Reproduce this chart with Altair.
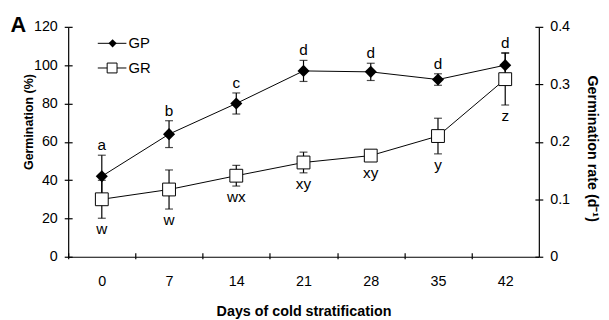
import altair as alt
import pandas as pd

days = [0, 7, 14, 21, 28, 35, 42]
gp = [42, 64, 80, 97, 96.5, 92.5, 100]
gp_err = [11, 7, 5.5, 5.5, 4.5, 3, 6.5]
gp_letters = ["a", "b", "c", "d", "d", "d", "d"]
gr = [0.100, 0.117, 0.141, 0.164, 0.176, 0.210, 0.309]
gr_err = [0.033, 0.034, 0.018, 0.018, 0.008, 0.031, 0.045]
gr_letters = ["w", "w", "wx", "xy", "xy", "y", "z"]
series_names = ["GP", "GR"]
gp_ticks = [0, 20, 40, 60, 80, 100, 120]
gr_ticks = [0, 0.1, 0.2, 0.3, 0.4]

FONT = "Liberation Sans"
W, H = 477, 233
x_min, x_max = -3.5, 45.5
half_band = W * 3.5 / (x_max - x_min)

df = pd.DataFrame({
    "day": days,
    "gp": gp,
    "gp_lo": [v - e for v, e in zip(gp, gp_err)],
    "gp_hi": [v + e for v, e in zip(gp, gp_err)],
    "gp_lab": gp_letters,
    "gr": gr,
    "gr_lo": [v - e for v, e in zip(gr, gr_err)],
    "gr_hi": [v + e for v, e in zip(gr, gr_err)],
    "gr_anchor": [v - max(e, 0.011) for v, e in zip(gr, gr_err)],
    "gr_lab": gr_letters,
})

xs = alt.Scale(domain=[x_min, x_max], nice=False, zero=False)
x_axis = alt.Axis(values=days, orient="bottom", tickOffset=-half_band, labelOffset=half_band, tickSize=2,
                  labelFlush=False, labelOverlap=False, title="Days of cold stratification",
                  labelPadding=16, titlePadding=17, grid=False)
x_axis_in = alt.Axis(values=days, orient="bottom", tickOffset=-half_band, tickSize=4, offset=-4,
                     labels=False, domain=False, title=None, grid=False)
X = alt.X("day:Q", scale=xs, axis=x_axis)
XI = alt.X("day:Q", scale=xs, axis=x_axis_in)
Xn = alt.X("day:Q", scale=xs, axis=None)

ys_gp = alt.Scale(domain=[0, 120], nice=False, zero=False)
ys_gr = alt.Scale(domain=[0, 0.4], nice=False, zero=False)

left_axis = alt.Axis(values=gp_ticks, orient="left", title="Germination (%)", tickSize=4,
                     labelPadding=7, grid=False, titleFontSize=12.6, titleAngle=270,
                     titleX=-36, titleY=96, titleAlign="center", titleBaseline="alphabetic")
left_axis_in = alt.Axis(values=gp_ticks, orient="left", tickSize=4, offset=-4, labels=False,
                        domain=False, title=None, grid=False)
right_axis = alt.Axis(values=gr_ticks, orient="right", title="Germination rate (d⁻¹)",
                      tickSize=4, labelPadding=7, grid=False, titleFontSize=14.5, titleAngle=90,
                      titleX=49, titleY=123, titleAlign="center", titleBaseline="alphabetic",
                      labelExpr="datum.value == 0 ? '0' : format(datum.value, '.1f')")
right_axis_in = alt.Axis(values=gr_ticks, orient="right", tickSize=4, offset=-4, labels=False,
                         domain=False, title=None, grid=False)

base = alt.Chart(df)

gp_line = base.mark_line(color="black", strokeWidth=1).encode(
    x=X, y=alt.Y("gp:Q", scale=ys_gp, axis=left_axis))
gp_err_rule = base.mark_rule(color="black", strokeWidth=1.2).encode(
    x=XI, y=alt.Y("gp_lo:Q", scale=ys_gp, axis=left_axis_in), y2="gp_hi:Q")
gp_cap_hi = base.mark_tick(color="black", orient="horizontal", size=8, thickness=1.2).encode(
    x=Xn, y=alt.Y("gp_hi:Q", scale=ys_gp, axis=None))
gp_cap_lo = base.mark_tick(color="black", orient="horizontal", size=8, thickness=1.2).encode(
    x=Xn, y=alt.Y("gp_lo:Q", scale=ys_gp, axis=None))
gp_pts = base.mark_point(shape="diamond", filled=True, color="black", size=150, opacity=1).encode(
    x=Xn, y=alt.Y("gp:Q", scale=ys_gp, axis=None))
gp_txt = base.mark_text(font=FONT, fontSize=15.5, baseline="alphabetic", dy=-5, color="black").encode(
    x=Xn, y=alt.Y("gp_hi:Q", scale=ys_gp, axis=None), text="gp_lab:N")

gr_line = base.mark_line(color="black", strokeWidth=1).encode(
    x=Xn, y=alt.Y("gr:Q", scale=ys_gr, axis=right_axis))
gr_err_rule = base.mark_rule(color="black", strokeWidth=1.2).encode(
    x=Xn, y=alt.Y("gr_lo:Q", scale=ys_gr, axis=right_axis_in), y2="gr_hi:Q")
gr_cap_hi = base.mark_tick(color="black", orient="horizontal", size=8, thickness=1.2).encode(
    x=Xn, y=alt.Y("gr_hi:Q", scale=ys_gr, axis=None))
gr_cap_lo = base.mark_tick(color="black", orient="horizontal", size=8, thickness=1.2).encode(
    x=Xn, y=alt.Y("gr_lo:Q", scale=ys_gr, axis=None))
gr_pts = base.mark_point(shape="square", filled=True, fill="white", stroke="black", strokeWidth=1,
                         size=169, opacity=1).encode(
    x=Xn, y=alt.Y("gr:Q", scale=ys_gr, axis=None))
gr_txt = base.mark_text(font=FONT, fontSize=15.5, baseline="alphabetic", dy=16, color="black").encode(
    x=Xn, y=alt.Y("gr_anchor:Q", scale=ys_gr, axis=None), text="gr_lab:N")

# manual legend
leg_gp = pd.DataFrame({"name": [series_names[0]]})
leg_gr = pd.DataFrame({"name": [series_names[1]]})
lg1_line = alt.Chart(leg_gp).mark_rule(color="black", strokeWidth=1).encode(
    x=alt.value(30), x2=alt.value(59), y=alt.value(16.7))
lg1_pt = alt.Chart(leg_gp).mark_point(shape="diamond", filled=True, color="black", size=70, opacity=1).encode(
    x=alt.value(45), y=alt.value(16.7))
lg1_txt = alt.Chart(leg_gp).mark_text(font=FONT, fontSize=15, align="left", baseline="alphabetic",
                                       color="black").encode(
    x=alt.value(61), y=alt.value(21.7), text="name:N")
lg2_line = alt.Chart(leg_gr).mark_rule(color="black", strokeWidth=1).encode(
    x=alt.value(30), x2=alt.value(59), y=alt.value(41.7))
lg2_pt = alt.Chart(leg_gr).mark_point(shape="square", filled=True, fill="white", stroke="black",
                                      strokeWidth=1, size=100, opacity=1).encode(
    x=alt.value(44.5), y=alt.value(41.7))
lg2_txt = alt.Chart(leg_gr).mark_text(font=FONT, fontSize=15, align="left", baseline="alphabetic",
                                       color="black").encode(
    x=alt.value(61), y=alt.value(46.7), text="name:N")

panel = pd.DataFrame({"p": ["A"]})
panel_txt = alt.Chart(panel).mark_text(font=FONT, fontSize=22, fontWeight="bold", align="left",
                                       baseline="alphabetic", color="black").encode(
    x=alt.value(-58.5), y=alt.value(5.5), text="p:N")

chart = alt.layer(
    gp_line, gr_line,
    gp_err_rule, gp_cap_hi, gp_cap_lo,
    gr_err_rule, gr_cap_hi, gr_cap_lo,
    gr_pts, gp_pts, gp_txt, gr_txt,
    lg1_line, lg1_pt, lg1_txt, lg2_line, lg2_pt, lg2_txt, panel_txt,
).resolve_scale(y="independent", x="independent").properties(
    width=W, height=H,
    autosize=alt.AutoSizeParams(type="none"),
    padding={"left": 61, "top": 17, "right": 63, "bottom": 62},
    background="white",
).configure_view(stroke=None).configure_axis(
    labelFont=FONT, titleFont=FONT, labelFontSize=14.5, titleFontSize=14.5, titleFontWeight="bold",
    labelColor="black", titleColor="black", domainColor="black", tickColor="black",
    domainWidth=1.2, tickWidth=1.2,
)

chart.save("out.html", embed_options={"renderer": "svg", "actions": False})
